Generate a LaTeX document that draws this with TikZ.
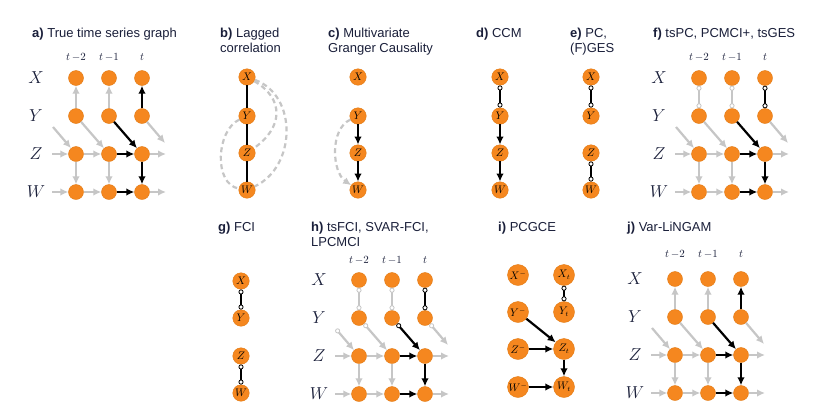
\documentclass[tikz,border=0pt]{standalone}
\usepackage{fontspec}
\setsansfont{Liberation Sans}
\usepackage{tikz}
\usetikzlibrary{arrows.meta, positioning}
\usepackage{xcolor}
\definecolor{NodeOrange}{HTML}{F5871F}
\definecolor{NodeRim}{HTML}{E27A12}
\definecolor{EdgeGrey}{HTML}{C6C6C6}
\definecolor{Ink}{HTML}{1A1F3A}
\tikzset{%
  paneltitle/.style={%
    anchor=north west,%
    inner sep=0pt,%
    align=left,%
    text=Ink,%
    font={\sffamily\fontsize{13}{14.6}\selectfont}%
  },
  rowlabel/.style={%
    text=Ink,%
    font={\fontsize{16.5}{18}\selectfont}%
  },
  lagtext/.style={%
    text=Ink,%
    font={\fontsize{11}{12}\selectfont}%
  },
  tsdot/.style={%
    circle,%
    fill=NodeOrange,%
    draw=NodeRim,%
    line width=0.4pt,%
    minimum size=15pt,%
    inner sep=0pt%
  },
  sumdot/.style={%
    tsdot,%
    minimum size=16.5pt,%
    font={\fontsize{10.5}{12}\selectfont}%
  },
  gcedot/.style={%
    tsdot,%
    minimum size=21pt,%
    font={\fontsize{10.5}{12}\selectfont}%
  },
  greyedge/.style={draw=EdgeGrey, line width=2.2pt},
  blackedge/.style={draw=black, line width=2.2pt},
  dashedge/.style={%
    draw=EdgeGrey,%
    line width=2.2pt,%
    dash pattern=on 5pt off 3.5pt%
  },
  head/.style={-{Latex[length=8pt, width=7.5pt]}},
  oo/.style={%
    {Circle[fill=white, length=5pt, line width=0.8pt]}-%
    {Circle[fill=white, length=5pt, line width=0.8pt]}%
  },
  ohead/.style={%
    {Circle[fill=white, length=5pt, line width=0.8pt]}-%
    {Latex[length=8pt, width=7.5pt]}%
  },
}

% grid of a time series graph: #1 name, #2 x of t-2, #3 y of X, #4 gap to lag row
\newcommand{\tsnodes}[4]{%
  \foreach \vname/\vidx in {X/0, Y/1, Z/2, W/3} {%
    \node [rowlabel] (#1-\vname) at (#2-40, #3+38*\vidx) {$\vname$};
    \foreach \lag/\cidx in {2/0, 1/1, 0/2} {%
      \node [tsdot] (#1-\vname-\lag) at (#2+33*\cidx, #3+38*\vidx) {};
    }
  }
  \node [lagtext] (#1-h2) at (#2, #3-#4) {$t\,{-}2$};
  \node [lagtext] (#1-h1) at (#2+33, #3-#4) {$t\,{-}1$};
  \node [lagtext] (#1-h0) at (#2+66, #3-#4) {$t$};
  \coordinate (#1-Yin) at (#2-23, #3+49);
  \coordinate (#1-Zin) at (#2-24, #3+76);
  \coordinate (#1-Win) at (#2-24, #3+114);
  \coordinate (#1-Yout) at (#2+89, #3+65);
  \coordinate (#1-Zout) at (#2+90, #3+76);
  \coordinate (#1-Wout) at (#2+90, #3+114);
}

% links: #1 name, #2 grey X-Y, #3 black X-Y, #4 Y-Z lagged
\newcommand{\tsedges}[4]{%
  \draw [greyedge, #2] (#1-Y-2) -- (#1-X-2);
  \draw [greyedge, #2] (#1-Y-1) -- (#1-X-1);
  \draw [blackedge, #3] (#1-Y-0) -- (#1-X-0);
  \draw [greyedge, #4] (#1-Yin) -- (#1-Z-2);
  \draw [greyedge, #4] (#1-Y-2) -- (#1-Z-1);
  \draw [blackedge, #4] (#1-Y-1) -- (#1-Z-0);
  \draw [greyedge, #4] (#1-Y-0) -- (#1-Yout);
  \draw [greyedge, head] (#1-Zin) -- (#1-Z-2);
  \draw [greyedge, head] (#1-Z-2) -- (#1-Z-1);
  \draw [blackedge, head] (#1-Z-1) -- (#1-Z-0);
  \draw [greyedge, head] (#1-Z-0) -- (#1-Zout);
  \draw [greyedge, head] (#1-Win) -- (#1-W-2);
  \draw [greyedge, head] (#1-W-2) -- (#1-W-1);
  \draw [blackedge, head] (#1-W-1) -- (#1-W-0);
  \draw [greyedge, head] (#1-W-0) -- (#1-Wout);
  \draw [greyedge, head] (#1-Z-2) -- (#1-W-2);
  \draw [greyedge, head] (#1-Z-1) -- (#1-W-1);
  \draw [blackedge, head] (#1-Z-0) -- (#1-W-0);
}

\begin{document}
\begin{tikzpicture}[x=1pt, y=-1pt]

    \useasboundingbox [fill=white] (0, 0) rectangle (825, 413);

    % titles
    \node [paneltitle] (ta) at (32, 28) {\textbf{a)} True time series graph};
    \node [paneltitle] (tb) at (220, 28) {\textbf{b)} Lagged\\correlation};
    \node [paneltitle] (tc) at (328, 28) {\textbf{c)} Multivariate\\Granger Causality};
    \node [paneltitle] (td) at (476, 28) {\textbf{d)} CCM};
    \node [paneltitle] (te) at (570, 28) {\textbf{e)} PC,\\(F)GES};
    \node [paneltitle] (tf) at (653, 28) {\textbf{f)} tsPC, PCMCI+, tsGES};
    \node [paneltitle] (tg) at (218, 222) {\textbf{g)} FCI};
    \node [paneltitle] (th) at (311, 222) {\textbf{h)} tsFCI, SVAR-FCI,\\LPCMCI};
    \node [paneltitle] (ti) at (498, 222) {\textbf{i)} PCGCE};
    \node [paneltitle] (tj) at (627, 222) {\textbf{j)} Var-LiNGAM};

    % time series graphs
    \tsnodes{a}{76}{78}{21}
    \tsedges{a}{head}{head}{head}
    \tsnodes{f}{699}{78}{21}
    \tsedges{f}{oo}{oo}{head}
    \tsnodes{h}{359}{280}{20}
    \tsedges{h}{oo}{oo}{ohead}
    \tsnodes{j}{675}{279}{25}
    \tsedges{j}{head}{head}{head}

    % b) lagged correlation
    \node [sumdot] (b-X) at (247, 77) {\(X\)};
    \node [sumdot] (b-Y) at (247, 116) {\(Y\)};
    \node [sumdot] (b-Z) at (247, 153) {\(Z\)};
    \node [sumdot] (b-W) at (247, 190) {\(W\)};
    \draw [blackedge] (b-X) -- (b-Y);
    \draw [blackedge] (b-Y) -- (b-Z);
    \draw [blackedge] (b-Z) -- (b-W);
    \draw [dashedge] (b-X) to [out=-30, in=35, looseness=1.35] (b-Z);
    \draw [dashedge] (b-X) to [out=-20, in=25, looseness=1.1] (b-W);
    \draw [dashedge] (b-Y) to [out=205, in=170, looseness=0.95] (b-W);

    % c) Granger
    \node [sumdot] (c-X) at (358, 77) {\(X\)};
    \node [sumdot] (c-Y) at (358, 116) {\(Y\)};
    \node [sumdot] (c-Z) at (358, 153) {\(Z\)};
    \node [sumdot] (c-W) at (358, 190) {\(W\)};
    \draw [blackedge, head] (c-Y) -- (c-Z);
    \draw [blackedge, head] (c-Z) -- (c-W);
    \draw [dashedge, -{Latex[length=8pt, width=7.5pt]}]
      (c-Y) to [out=205, in=145, looseness=0.9] (c-W);

    % d) CCM
    \node [sumdot] (d-X) at (500, 77) {\(X\)};
    \node [sumdot] (d-Y) at (500, 116) {\(Y\)};
    \node [sumdot] (d-Z) at (500, 153) {\(Z\)};
    \node [sumdot] (d-W) at (500, 190) {\(W\)};
    \draw [blackedge, oo] (d-X) -- (d-Y);
    \draw [blackedge, head] (d-Y) -- (d-Z);
    \draw [blackedge, head] (d-Z) -- (d-W);

    % e) PC
    \node [sumdot] (e-X) at (591, 77) {\(X\)};
    \node [sumdot] (e-Y) at (591, 116) {\(Y\)};
    \node [sumdot] (e-Z) at (591, 153) {\(Z\)};
    \node [sumdot] (e-W) at (591, 190) {\(W\)};
    \draw [blackedge, oo] (e-X) -- (e-Y);
    \draw [blackedge, oo] (e-Z) -- (e-W);

    % g) FCI
    \node [sumdot] (g-X) at (241, 281) {\(X\)};
    \node [sumdot] (g-Y) at (241, 318) {\(Y\)};
    \node [sumdot] (g-Z) at (241, 356) {\(Z\)};
    \node [sumdot] (g-W) at (241, 393) {\(W\)};
    \draw [blackedge, oo] (g-X) -- (g-Y);
    \draw [blackedge, oo] (g-Z) -- (g-W);

    % i) PCGCE
    \node [gcedot] (i-Xp) at (518, 275) {\(X^-\)};
    \node [gcedot] (i-Xt) at (564, 275) {\(X_t\)};
    \node [gcedot] (i-Yp) at (518, 312) {\(Y^-\)};
    \node [gcedot] (i-Yt) at (564, 312) {\(Y_t\)};
    \node [gcedot] (i-Zp) at (518, 349) {\(Z^-\)};
    \node [gcedot] (i-Zt) at (564, 349) {\(Z_t\)};
    \node [gcedot] (i-Wp) at (518, 387) {\(W^-\)};
    \node [gcedot] (i-Wt) at (564, 387) {\(W_t\)};
    \draw [blackedge, oo] (i-Xt) -- (i-Yt);
    \draw [blackedge, head] (i-Yp) -- (i-Zt);
    \draw [blackedge, head] (i-Zp) -- (i-Zt);
    \draw [blackedge, head] (i-Zt) -- (i-Wt);
    \draw [blackedge, head] (i-Wp) -- (i-Wt);
  \end{tikzpicture}
\end{document}
